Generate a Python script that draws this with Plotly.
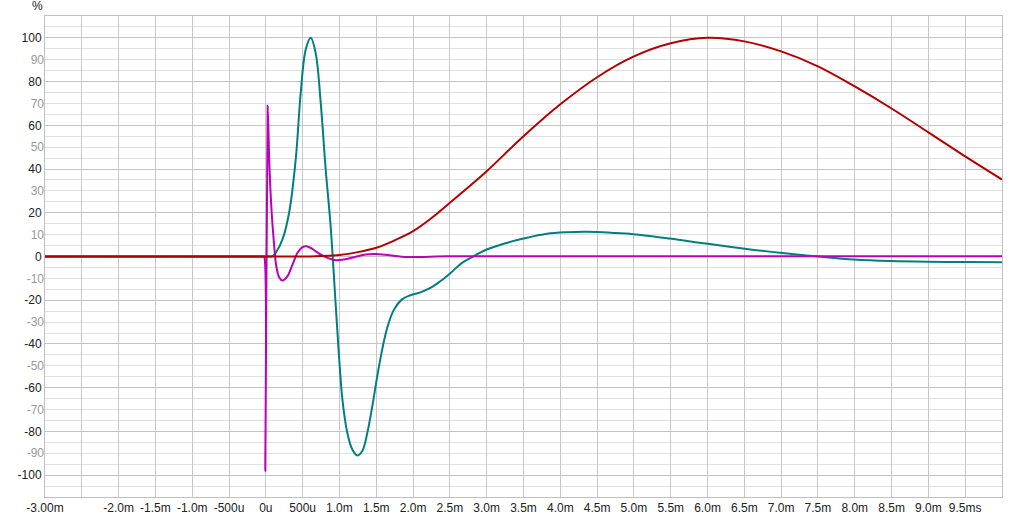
import plotly.graph_objects as go

# ---------------- data (time in ms, value in %) ----------------
red_t = [-3.0, 0.0, 0.4, 0.6, 0.75, 1.0, 1.25, 1.5, 1.75, 2.0, 2.25, 2.5, 2.75, 3.0, 3.5, 4.0,
         4.5, 5.0, 5.5, 6.0, 6.5, 7.0, 7.5, 8.0, 8.5, 9.0, 9.5, 10.0]
red_v = [0, 0, 0, 0.05, 0.2, 0.7, 2.0, 4.0, 7.4, 11.6, 17.6, 24.6, 31.7, 39.0, 55.0, 69.6,
         82.0, 91.5, 97.5, 100.0, 98.4, 93.8, 87.0, 77.8, 67.7, 56.8, 45.8, 35.2]

teal_t = [-3.0, -0.5, 0.0, 0.09, 0.135, 0.226, 0.316, 0.406, 0.474, 0.542, 0.61, 0.677, 0.745,
          0.813, 0.88, 0.95, 0.994, 1.04, 1.107, 1.175, 1.242, 1.31, 1.378, 1.446, 1.513, 1.58,
          1.649, 1.74, 1.85, 1.965, 2.1, 2.236, 2.37, 2.51, 2.665, 2.82, 3.0, 3.27, 3.5, 3.82,
          4.09, 4.36, 4.72, 4.99, 5.49, 5.98, 6.48, 6.98, 7.5, 7.99, 8.49, 8.99, 9.5, 10.0]
teal_v = [0, 0, 0, 0.2, 1.7, 7.8, 20.0, 44.4, 75.0, 94.7, 100.0, 93.0, 70.5,
          39.8, 13.9, -22.7, -45.6, -65.4, -80.7, -88.3, -91.0, -89.0, -80.7, -68.5, -54.8, -42.6,
          -32.6, -24.3, -19.6, -17.7, -16.4, -14.4, -11.3, -7.5, -2.9, 0.1, 3.2, 6.2, 8.2, 10.4,
          11.1, 11.3, 10.8, 10.2, 8.2, 5.9, 3.7, 1.7, 0.0, -1.4, -2.1, -2.4, -2.5, -2.6]

mag_t = [-3.0, -0.5, -0.1, -0.04, -0.025, -0.007, 0.025, 0.045, 0.06, 0.081, 0.113, 0.14, 0.18,
         0.226, 0.294, 0.362, 0.43, 0.497, 0.55, 0.632, 0.72, 0.836, 0.949, 1.06, 1.22, 1.355,
         1.49, 1.65, 1.92, 2.46, 4.0, 7.0, 10.0]
mag_v = [0, 0, 0, 0, 0, -98.0, 69.0, 45.0, 32.0, 19.0, 5.0, -4.0, -9.5,
         -11.0, -9.0, -3.7, 1.7, 4.3, 4.7, 3.5, 1.4, -0.6, -1.7, -1.4, -0.1, 0.9,
         1.1, 0.7, -0.2, 0.1, 0.1, 0.1, 0.1]

x_tick_vals = [-3.0, -2.5, -2.0, -1.5, -1.0, -0.5, 0.0, 0.5, 1.0, 1.5, 2.0, 2.5, 3.0, 3.5, 4.0,
               4.5, 5.0, 5.5, 6.0, 6.5, 7.0, 7.5, 8.0, 8.5, 9.0, 9.5]
x_tick_text = ["-3.00m", "", "-2.0m", "-1.5m", "-1.0m", "-500u", "0u", "500u", "1.0m", "1.5m",
               "2.0m", "2.5m", "3.0m", "3.5m", "4.0m", "4.5m", "5.0m", "5.5m", "6.0m", "6.5m",
               "7.0m", "7.5m", "8.0m", "8.5m", "9.0m", "9.5ms"]

y_major_vals = [-100, -80, -60, -40, -20, 0, 20, 40, 60, 80, 100]
y_odd_vals = [-90, -70, -50, -30, -10, 10, 30, 50, 70, 90]
y_minor_vals = [-105, -95, -90, -85, -75, -70, -65, -55, -50, -45, -35, -30, -25, -15, -10, -5,
                5, 10, 15, 25, 30, 35, 45, 50, 55, 65, 70, 75, 85, 90, 95, 105]

FONT = "Liberation Sans, Arial, sans-serif"

fig = go.Figure()
fig.add_trace(go.Scatter(x=teal_t, y=teal_v, mode="lines",
                         line=dict(color="#007f7f", width=2, shape="spline", smoothing=1),
                         hoverinfo="skip"))
fig.add_trace(go.Scatter(x=mag_t, y=mag_v, mode="lines",
                         line=dict(color="#bb00bb", width=2, shape="spline", smoothing=0.8),
                         hoverinfo="skip"))
fig.add_trace(go.Scatter(x=red_t, y=red_v, mode="lines",
                         line=dict(color="#b30000", width=2, shape="spline", smoothing=1),
                         hoverinfo="skip"))
# empty trace so the secondary (label) axis is present
fig.add_trace(go.Scatter(x=[], y=[], yaxis="y2", hoverinfo="skip"))

fig.update_layout(
    width=1024, height=521,
    margin=dict(l=45, r=22, t=16, b=24, autoexpand=False),
    paper_bgcolor="white", plot_bgcolor="white",
    showlegend=False,
    font=dict(family=FONT, size=12, color="#222"),
    xaxis=dict(range=[-3.0, 10.0], tickmode="array", tickvals=x_tick_vals, ticktext=x_tick_text,
               showgrid=True, gridcolor="#c8c8c8", gridwidth=1, zeroline=False, automargin=False,
               showline=True, linecolor="#c0c0c0", linewidth=1, mirror=True,
               ticks="", tickfont=dict(family=FONT, size=12, color="#222")),
    yaxis=dict(range=[-110, 110], tickmode="array", tickvals=y_major_vals,
               ticktext=[str(v) for v in y_major_vals], automargin=False,
               showgrid=True, gridcolor="#c4c4c4", gridwidth=1, zeroline=False,
               minor=dict(tickmode="array", tickvals=y_minor_vals, showgrid=True,
                          gridcolor="#e0e0e0", gridwidth=1, ticks=""),
               showline=True, linecolor="#c0c0c0", linewidth=1, mirror=True,
               ticks="", tickfont=dict(family=FONT, size=12, color="#222")),
    yaxis2=dict(range=[-110, 110], overlaying="y", side="left", tickmode="array",
                tickvals=y_odd_vals, ticktext=[str(v) for v in y_odd_vals], automargin=False,
                showgrid=False, zeroline=False, showline=False, ticks="",
                tickfont=dict(family=FONT, size=12, color="#999")),
    annotations=[dict(text="%", xref="paper", yref="paper", x=-0.008, y=1.021,
                      xanchor="center", yanchor="middle", showarrow=False,
                      font=dict(family=FONT, size=12, color="#222"))],
)

fig.write_html(
    "out.html",
    config={"displayModeBar": False, "staticPlot": True},
    post_script="document.body.style.margin='0';document.body.style.padding='0';"
                "document.documentElement.style.overflow='hidden';",
)
